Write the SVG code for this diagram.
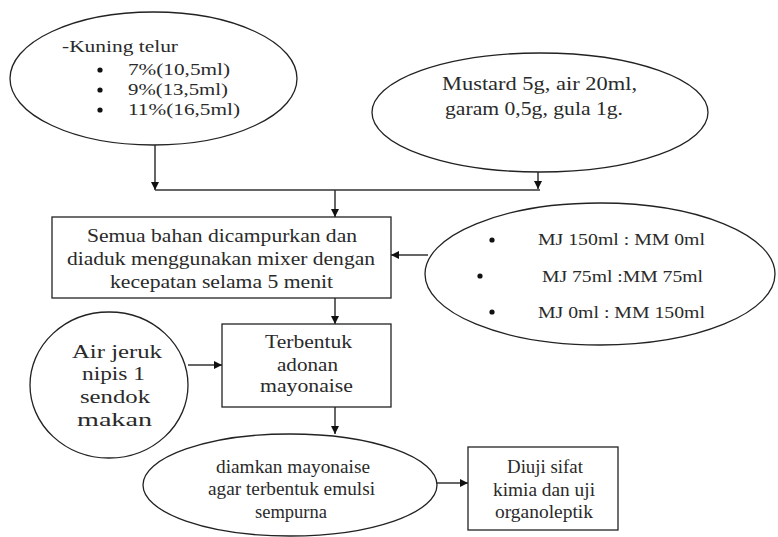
<svg xmlns="http://www.w3.org/2000/svg" width="778" height="537" viewBox="0 0 778 537">
<style>
.s{fill:#fff;stroke:#222;stroke-width:1.3}
text{font-family:"Liberation Serif","Times New Roman",serif;font-size:18px;fill:#2a2a2a}
.sm{font-size:16px}
.b{fill:#111}
.c{fill:none;stroke:#333;stroke-width:1.5}
</style>
<defs>
<marker id="ah" viewBox="0 0 10 10" refX="10" refY="5" markerWidth="10" markerHeight="8" markerUnits="userSpaceOnUse" orient="auto">
<path d="M0,0 L10,5 L0,10 z" fill="#111"/>
</marker>
</defs>
<rect width="778" height="537" fill="#fff"/>
<g id="connectors">
<path class="c" d="M155,145 V190" marker-end="url(#ah)"/>
<path class="c" d="M155,190 H540"/>
<path class="c" d="M538,172 V189" marker-end="url(#ah)"/>
<path class="c" d="M335,190 V217" marker-end="url(#ah)"/>
<path class="c" d="M428,255 H391" marker-end="url(#ah)"/>
<path class="c" d="M335,298 V324" marker-end="url(#ah)"/>
<path class="c" d="M188,365 H222" marker-end="url(#ah)"/>
<path class="c" d="M335,407 V434" marker-end="url(#ah)"/>
<path class="c" d="M437,483 H468" marker-end="url(#ah)"/>
</g>
<g id="kuning-telur">
<ellipse class="s" cx="153.5" cy="78.5" rx="143.5" ry="66.5"/>
<text class="sm" x="62" y="52" textLength="116" lengthAdjust="spacingAndGlyphs">-Kuning telur</text>
<circle class="b" cx="100" cy="70" r="2.6"/>
<text class="sm" x="128" y="75" textLength="102" lengthAdjust="spacingAndGlyphs">7%(10,5ml)</text>
<circle class="b" cx="100" cy="90" r="2.6"/>
<text class="sm" x="128" y="95" textLength="100" lengthAdjust="spacingAndGlyphs">9%(13,5ml)</text>
<circle class="b" cx="100" cy="110" r="2.6"/>
<text class="sm" x="128" y="115" textLength="112" lengthAdjust="spacingAndGlyphs">11%(16,5ml)</text>
</g>
<g id="mustard">
<ellipse class="s" cx="540" cy="112.5" rx="168" ry="59.5"/>
<text x="442" y="90" textLength="195" lengthAdjust="spacingAndGlyphs">Mustard 5g, air 20ml,</text>
<text x="445" y="115" textLength="178" lengthAdjust="spacingAndGlyphs">garam 0,5g, gula 1g.</text>
</g>
<g id="campur">
<rect class="s" x="52" y="217" width="339" height="81"/>
<text x="87" y="242" textLength="270" lengthAdjust="spacingAndGlyphs">Semua bahan dicampurkan dan</text>
<text x="67" y="265" textLength="308" lengthAdjust="spacingAndGlyphs">diaduk menggunakan mixer dengan</text>
<text x="110" y="288" textLength="223" lengthAdjust="spacingAndGlyphs">kecepatan selama 5 menit</text>
</g>
<g id="mj-mm">
<ellipse class="s" cx="600" cy="274" rx="175" ry="71"/>
<circle class="b" cx="492" cy="240" r="2.6"/>
<text class="sm" x="538" y="245" textLength="167" lengthAdjust="spacingAndGlyphs">MJ 150ml : MM 0ml</text>
<circle class="b" cx="480" cy="276" r="2.6"/>
<text class="sm" x="542" y="282" textLength="161" lengthAdjust="spacingAndGlyphs">MJ 75ml :MM 75ml</text>
<circle class="b" cx="492" cy="312" r="2.6"/>
<text class="sm" x="538" y="318" textLength="167" lengthAdjust="spacingAndGlyphs">MJ 0ml : MM 150ml</text>
</g>
<g id="jeruk">
<ellipse class="s" cx="109" cy="385" rx="79" ry="73"/>
<text x="72" y="358" textLength="90" lengthAdjust="spacingAndGlyphs">Air jeruk</text>
<text x="82" y="380" textLength="63" lengthAdjust="spacingAndGlyphs">nipis 1</text>
<text x="80" y="403" textLength="70" lengthAdjust="spacingAndGlyphs">sendok</text>
<text x="77" y="426" textLength="75" lengthAdjust="spacingAndGlyphs">makan</text>
</g>
<g id="adonan">
<rect class="s" x="222" y="324" width="169" height="83"/>
<text x="265" y="348" textLength="87" lengthAdjust="spacingAndGlyphs">Terbentuk</text>
<text x="277" y="371" textLength="61" lengthAdjust="spacingAndGlyphs">adonan</text>
<text x="260" y="392" textLength="93" lengthAdjust="spacingAndGlyphs">mayonaise</text>
</g>
<g id="diamkan">
<ellipse class="s" cx="290" cy="485" rx="147" ry="51"/>
<text x="216" y="473" textLength="154" lengthAdjust="spacingAndGlyphs">diamkan mayonaise</text>
<text x="208" y="495" textLength="167" lengthAdjust="spacingAndGlyphs">agar terbentuk emulsi</text>
<text x="255" y="518" textLength="72" lengthAdjust="spacingAndGlyphs">sempurna</text>
</g>
<g id="diuji">
<rect class="s" x="468" y="447" width="150" height="83"/>
<text x="507" y="473" textLength="76" lengthAdjust="spacingAndGlyphs">Diuji sifat</text>
<text x="493" y="496" textLength="102" lengthAdjust="spacingAndGlyphs">kimia dan uji</text>
<text x="495" y="518" textLength="98" lengthAdjust="spacingAndGlyphs">organoleptik</text>
</g>
</svg>
